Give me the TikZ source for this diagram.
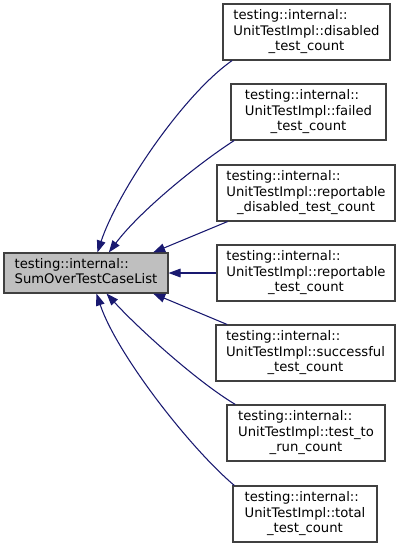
\documentclass[tikz,border=0pt]{standalone}
\usepackage{fontspec}
\setmainfont{DejaVu Sans}
\definecolor{DoxEdge}{HTML}{191970}
\definecolor{DoxGrey}{HTML}{BFBFBF}
\definecolor{DoxLine}{HTML}{404040}
\usetikzlibrary{arrows.meta}

\newcommand{\calleetext}[2]{\begin{tabular}{@{}l@{}}testing::internal::\\UnitTestImpl::#1\\\multicolumn{1}{@{}c@{}}{#2}\end{tabular}}

\begin{document}
\begin{tikzpicture}[x=0.75pt,y=-0.75pt,>={Triangle[length=9pt,width=6.5pt]},
    fnbox/.style={draw=DoxLine,line width=0.8pt,fill=white,inner sep=2pt,
      minimum height=42pt,font=\fontsize{9.9}{11.3}\selectfont},
    calledge/.style={->,draw=DoxEdge,line width=0.8pt}]
    \useasboundingbox (0,0) rectangle (401,547);
    \node[fnbox,fill=DoxGrey,minimum width=123pt,minimum height=30pt] (main) at (86,273)
      {\begin{tabular}{@{}l@{}}testing::internal::\\SumOverTestCaseList\end{tabular}};
    \foreach \i/\x/\y/\bw/\nm/\tl in {
        1/306.5/32/125.25pt/disabled/\_test\_count,
        2/308.5/112/116.25pt/failed/\_test\_count,
        3/306/193/133.5pt/reportable/\_disabled\_test\_count,
        4/306/273/133.5pt/reportable/\_test\_count,
        5/305.5/353/134.25pt/successful/\_test\_count,
        6/306/433/118.5pt/test\_to/\_run\_count,
        7/305/514/108pt/total/\_test\_count} {
      \node[fnbox,minimum width=\bw] (d\i) at (\x,\y) {\calleetext{\nm}{\tl}};
    }
    \draw[calledge] (d1.201) .. controls +(-50,35) and +(20,-60) .. (main.61);
    \draw[calledge] (d2.201) .. controls +(-40,26) and +(30,-40) .. (main.42);
    \draw[calledge] (d3.200) -- (main.17);
    \draw[calledge] (d4.west) -- (main.east);
    \draw[calledge] (d5.160) -- (main.-17);
    \draw[calledge] (d6.158) .. controls +(-40,-24) and +(30,33) .. (main.-45);
    \draw[calledge] (d7.158) .. controls +(-45,-38) and +(20,60) .. (main.-63);
  \end{tikzpicture}
\end{document}
